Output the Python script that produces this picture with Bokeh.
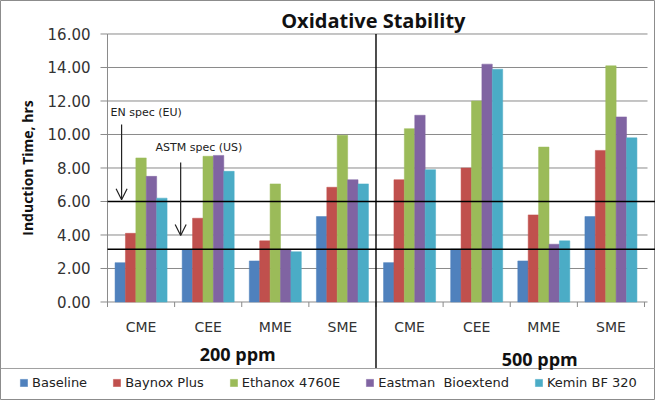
from bokeh.plotting import figure
from bokeh.models import Range1d, Legend, LegendItem, Arrow, OpenHead
from bokeh.core.properties import value
from bokeh.embed import file_html
from bokeh.resources import INLINE

# ---------------- data ----------------
groups = ["200 ppm", "500 ppm"]
fuels = ["CME", "CEE", "MME", "SME"]
categories = fuels + fuels
series = ["Baseline", "Baynox Plus", "Ethanox 4760E", "Eastman  Bioextend", "Kemin BF 320"]

baseline = [2.35, 3.10, 2.45, 5.10, 2.35, 3.15, 2.45, 5.10]
baynox   = [4.10, 5.00, 3.65, 6.85, 7.30, 8.00, 5.20, 9.05]
ethanox  = [8.60, 8.70, 7.05, 9.95, 10.35, 12.00, 9.25, 14.10]
eastman  = [7.50, 8.75, 3.10, 7.30, 11.15, 14.20, 3.45, 11.05]
kemin    = [6.20, 7.80, 3.00, 7.05, 7.90, 13.90, 3.65, 9.80]
values_by_series = [baseline, baynox, ethanox, eastman, kemin]

colors = ["#4F81BD", "#C0504D", "#9BBB59", "#8064A2", "#4BACC6"]
yticks = [0, 2, 4, 6, 8, 10, 12, 14, 16]
en_spec = 6.0
astm_spec = 3.15

# ---------------- figure ----------------
p = figure(width=655, height=400,
           x_range=Range1d(-1.594, 8.164), y_range=Range1d(-5.881, 18.0),
           x_axis_location=None, y_axis_location=None,
           output_backend="svg", toolbar_location=None, min_border=0)
p.xgrid.visible = False
p.ygrid.visible = False
p.outline_line_color = "#8c8c8c"
p.outline_line_width = 1
p.background_fill_color = "white"
p.border_fill_color = "white"

ncat = len(categories)
grid_end = 8.045
# gridlines
p.segment(x0=[0] * (len(yticks) - 1), x1=[grid_end] * (len(yticks) - 1),
          y0=yticks[1:], y1=yticks[1:], line_color="#8a8a8a", line_width=1)
# axes lines
p.segment(x0=[0], x1=[grid_end], y0=[0], y1=[0], line_color="#8a8a8a", line_width=1)
p.segment(x0=[0], x1=[0], y0=[0], y1=[yticks[-1]], line_color="#8a8a8a", line_width=1)
# y ticks
p.segment(x0=[-0.104] * len(yticks), x1=[0] * len(yticks), y0=yticks, y1=yticks,
          line_color="#8a8a8a", line_width=1)
# x ticks at category boundaries
xb = list(range(ncat + 1))
p.segment(x0=xb, x1=xb, y0=[0] * len(xb), y1=[-0.3] * len(xb),
          line_color="#8a8a8a", line_width=1)

# bars
bw = 0.155
renderers = []
for i, (name, vals, col) in enumerate(zip(series, values_by_series, colors)):
    xs = [j + 0.5 + (i - 2) * bw for j in range(ncat)]
    r = p.vbar(x=xs, top=vals, bottom=0, width=bw, fill_color=col, line_color=col, line_width=0.5)
    renderers.append((name, r))

# spec lines
p.segment(x0=[0, 0], x1=[8.164, 8.164], y0=[en_spec, astm_spec], y1=[en_spec, astm_spec],
          line_color="black", line_width=1.6)

# divider between groups
p.segment(x0=[4], x1=[4], y0=[-3.97], y1=[yticks[-1]], line_color="black", line_width=1.4)
# legend separator
p.segment(x0=[-1.594], x1=[8.164], y0=[-3.97], y1=[-3.97], line_color="#a0a0a0", line_width=1)

# y tick labels
p.text(x=[-0.253] * len(yticks), y=yticks, text=[f"{v:.2f}" for v in yticks],
       text_align="right", text_baseline="middle", text_font=value("DejaVu Sans"),
       text_font_size="15px", text_color="#333333")
# y axis title
p.text(x=[-1.19], y=[8], text=["Induction Time, hrs"], angle=1.5708,
       text_align="center", text_baseline="middle", text_font=value("Open Sans"),
       text_font_size="14px", text_font_style="bold", text_color="#111111")
# category labels
p.text(x=[j + 0.5 for j in range(ncat)], y=[-1.52] * ncat, text=categories,
       text_align="center", text_baseline="middle", text_font=value("DejaVu Sans"),
       text_font_size="14px", text_color="#333333")
# group labels
p.text(x=[1.94, 6.44], y=[-3.13, -3.43], text=groups,
       text_align="center", text_baseline="middle", text_font=value("Open Sans"),
       text_font_size="18px", text_font_style="bold", text_color="#111111")
# title
p.text(x=[3.96], y=[16.8], text=["Oxidative Stability"],
       text_align="center", text_baseline="middle", text_font=value("Open Sans"),
       text_font_size="20px", text_font_style="bold", text_color="#111111")

# spec annotations
p.text(x=[0.045, 0.715], y=[11.31, 9.22], text=["EN spec (EU)", "ASTM spec (US)"],
       text_align="left", text_baseline="middle", text_font=value("DejaVu Sans"),
       text_font_size="11px", text_color="#222222")
p.add_layout(Arrow(end=OpenHead(size=11, line_width=1.2, line_color="#222222"),
                   x_start=0.21, y_start=10.6, x_end=0.21, y_end=en_spec + 0.1,
                   line_width=1.2, line_color="#222222"))
p.add_layout(Arrow(end=OpenHead(size=11, line_width=1.2, line_color="#222222"),
                   x_start=1.09, y_start=8.33, x_end=1.09, y_end=3.97,
                   line_width=1.2, line_color="#222222"))

# legend
legend = Legend(items=[LegendItem(label=n, renderers=[r]) for n, r in renderers],
                orientation="horizontal", location=(19, 10),
                glyph_width=9, glyph_height=9, label_standoff=4, spacing=25,
                padding=0, margin=0, label_height=16,
                label_text_font="DejaVu Sans", label_text_font_size="13px",
                label_text_color="#222222",
                border_line_color=None, background_fill_alpha=0)
p.add_layout(legend)

open("out.html", "w").write(file_html(p, INLINE))
